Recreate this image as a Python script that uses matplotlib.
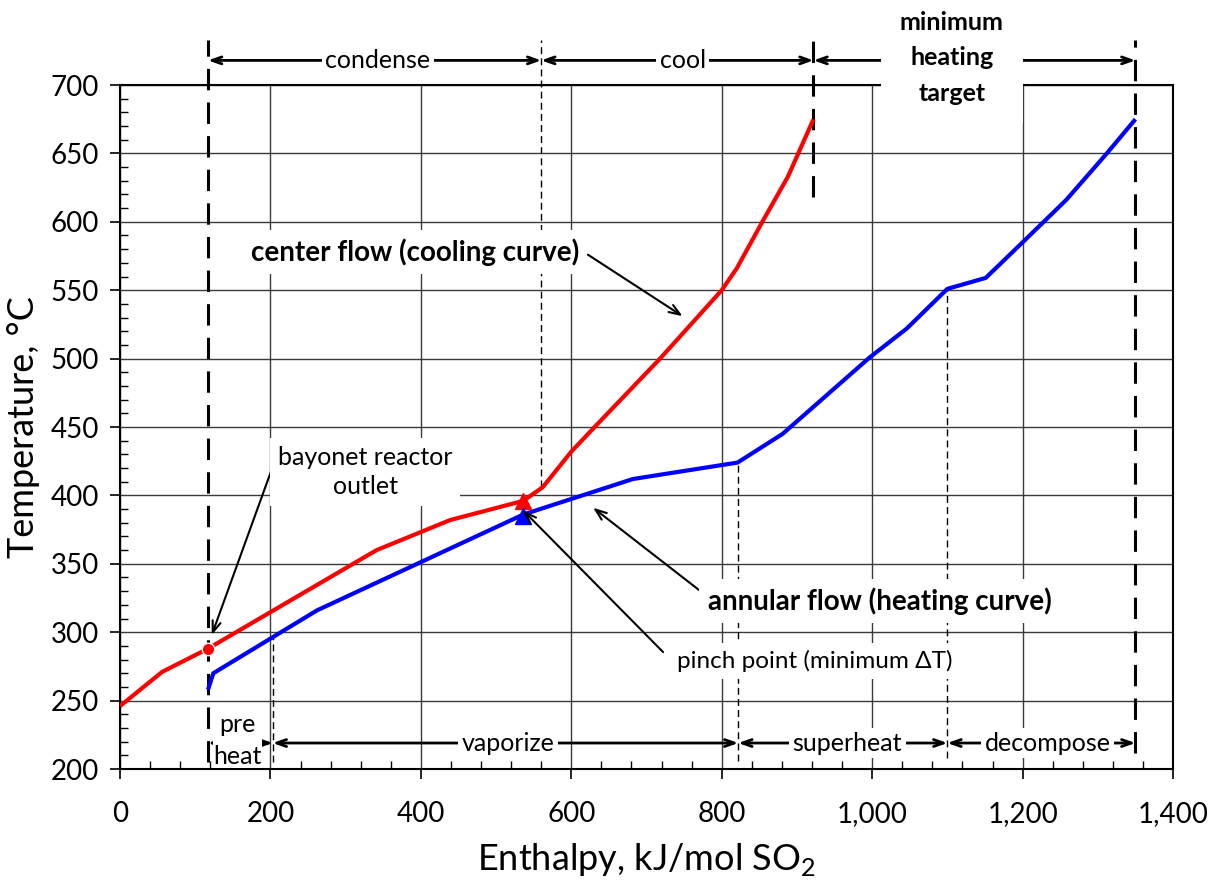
import matplotlib.pyplot as plt
import numpy as np
from matplotlib.ticker import FuncFormatter

plt.rcParams['font.family'] = ['Lato', 'DejaVu Sans']
plt.rcParams['mathtext.fontset'] = 'custom'
plt.rcParams['mathtext.rm'] = 'Lato'

# curvas (entalpia kJ/mol SO2, temperatura C)
center_h = [0, 56, 117, 341, 439, 536, 562, 600, 631, 718, 800, 820, 854, 888, 922]
center_T = [246, 271, 288, 360, 382, 396, 406, 432, 450, 500, 550, 566, 600, 633, 675]

annular_h = [117, 124, 262, 536, 682, 821, 881, 997, 1046, 1100, 1151, 1200, 1258, 1312, 1350]
annular_T = [258, 270, 316, 386, 412, 424, 445, 501, 522, 551, 559, 585, 616, 650, 675]

outlet_h, outlet_T = 117, 288
pinch_h, pinch_Tc, pinch_Ta = 536, 396, 385

# zonas de proceso
top_bounds = [117, 560, 922, 1350]
top_labels = ['condense', 'cool', 'minimum\nheating\ntarget']
bot_bounds = [117, 203, 822, 1100, 1350]
bot_labels = ['pre\nheat', 'vaporize', 'superheat', 'decompose']

fig = plt.figure(figsize=(12.21, 8.94), dpi=100)
ax = fig.add_axes([0.0983, 0.1398, 0.8624, 0.7651])

ax.plot(center_h, center_T, color='red', lw=3, zorder=6, solid_capstyle='butt')
ax.plot(annular_h, annular_T, color='blue', lw=3, zorder=6, solid_capstyle='butt')
ax.plot(outlet_h, outlet_T, 'o', color='red', ms=9, mec='white', mew=1, zorder=7)
ax.plot(pinch_h, pinch_Tc, '^', color='red', ms=12, zorder=7)
ax.plot(pinch_h, pinch_Ta, '^', color='blue', ms=12, zorder=7)

# lineas verticales de las zonas
thick = dict(color='black', lw=2.2, dashes=(7, 4), clip_on=False, zorder=5)
thin = dict(color='black', lw=1, dashes=(5, 3), clip_on=False, zorder=5)
ax.plot([117, 117], [205, 733], **thick)
ax.plot([922, 922], [618, 733], **thick)
ax.plot([1350, 1350], [212, 733], **thick)
ax.plot([560, 560], [406, 733], **thin)
ax.plot([203, 203], [205, 296], **thin)
ax.plot([822, 822], [206, 424], **thin)
ax.plot([1100, 1100], [208, 551], **thin)

arrow_kw = dict(arrowstyle='<->,head_length=0.7,head_width=0.25', lw=2, color='black',
                shrinkA=0, shrinkB=0)
white = dict(facecolor='white', edgecolor='none', boxstyle='square,pad=0.15')

y_top = 718
for i, lab in enumerate(top_labels):
    a, b = top_bounds[i], top_bounds[i + 1]
    ax.annotate('', xy=(b, y_top), xytext=(a, y_top), arrowprops=arrow_kw,
                annotation_clip=False, zorder=5)
for lab, xc in zip(top_labels[:2], [343, 748]):
    ax.text(xc, y_top, lab, ha='center', va='center', fontsize=18, bbox=white,
            zorder=8, clip_on=False)
ax.text(1106, 720, top_labels[2], ha='center', va='center', fontsize=18,
        fontweight='bold', linespacing=1.65, clip_on=False, zorder=8,
        bbox=dict(facecolor='white', edgecolor='none', boxstyle='square,pad=0.75'))

y_bot = 219
for i, lab in enumerate(bot_labels):
    a, b = bot_bounds[i], bot_bounds[i + 1]
    ax.annotate('', xy=(b, y_bot), xytext=(a, y_bot), arrowprops=arrow_kw,
                annotation_clip=False, zorder=5)
ax.text(156, 221, bot_labels[0], ha='center', va='center', fontsize=18,
        linespacing=1.45, zorder=8, bbox=dict(facecolor='white', edgecolor='none',
                                             boxstyle='square,pad=0.0'))
for lab, xc in zip(bot_labels[1:], [516, 967, 1233]):
    ax.text(xc, y_bot, lab, ha='center', va='center', fontsize=18, bbox=white, zorder=8)

# anotaciones con flecha
ptr = dict(arrowstyle='->,head_length=0.8,head_width=0.3', lw=1.5, color='black',
           shrinkA=0, shrinkB=0)
ax.annotate('', xy=(122, 298), xytext=(203, 421), arrowprops=ptr, zorder=8)
ax.text(326, 417, 'bayonet reactor\noutlet', ha='center', va='center', fontsize=18,
        linespacing=1.35, zorder=8, bbox=dict(facecolor='white', edgecolor='none',
                                             boxstyle='square,pad=0.3'))
ax.annotate('', xy=(748, 531), xytext=(622, 576), arrowprops=ptr, zorder=8)
ax.text(392, 578, 'center flow (cooling curve)', ha='center', va='center', fontsize=20,
        fontweight='bold', zorder=8, bbox=dict(facecolor='white', edgecolor='none',
                                              boxstyle='square,pad=0.3'))
ax.annotate('', xy=(629, 391), xytext=(787, 323.5), arrowprops=ptr, zorder=8)
ax.text(1010, 323, 'annular flow (heating curve)', ha='center', va='center', fontsize=20,
        fontweight='bold', zorder=8, bbox=dict(facecolor='white', edgecolor='none',
                                              boxstyle='square,pad=0.3'))
ax.annotate('', xy=(536, 389), xytext=(722, 285.5), arrowprops=ptr, zorder=8)
ax.text(924, 279, 'pinch point (minimum ΔT)', ha='center', va='center', fontsize=17.5,
        zorder=8, bbox=dict(facecolor='white', edgecolor='none', boxstyle='square,pad=0.3'))

ax.set_xlim(0, 1400)
ax.set_ylim(200, 700)
ax.set_xticks(np.arange(0, 1401, 200))
ax.set_xticks(np.arange(0, 1401, 40), minor=True)
ax.set_yticks(np.arange(200, 701, 50))
ax.set_yticks(np.arange(200, 701, 10), minor=True)
ax.xaxis.set_major_formatter(FuncFormatter(lambda v, p: f'{v:,.0f}'))
ax.tick_params(which='major', direction='out', length=7, width=1.2, labelsize=20, pad=8)
ax.tick_params(axis='x', which='major', pad=16)
ax.tick_params(which='minor', direction='in', length=6, width=1)
ax.grid(which='major', color='#3a3a3a', lw=1)
ax.set_axisbelow(True)
for s in ax.spines.values():
    s.set_linewidth(1.5)

ax.set_xlabel('Enthalpy, kJ/mol SO$_2$', fontsize=26, labelpad=10)
ax.set_ylabel('Temperature, °C', fontsize=26, labelpad=8)

fig.savefig('out.png', dpi=100)
